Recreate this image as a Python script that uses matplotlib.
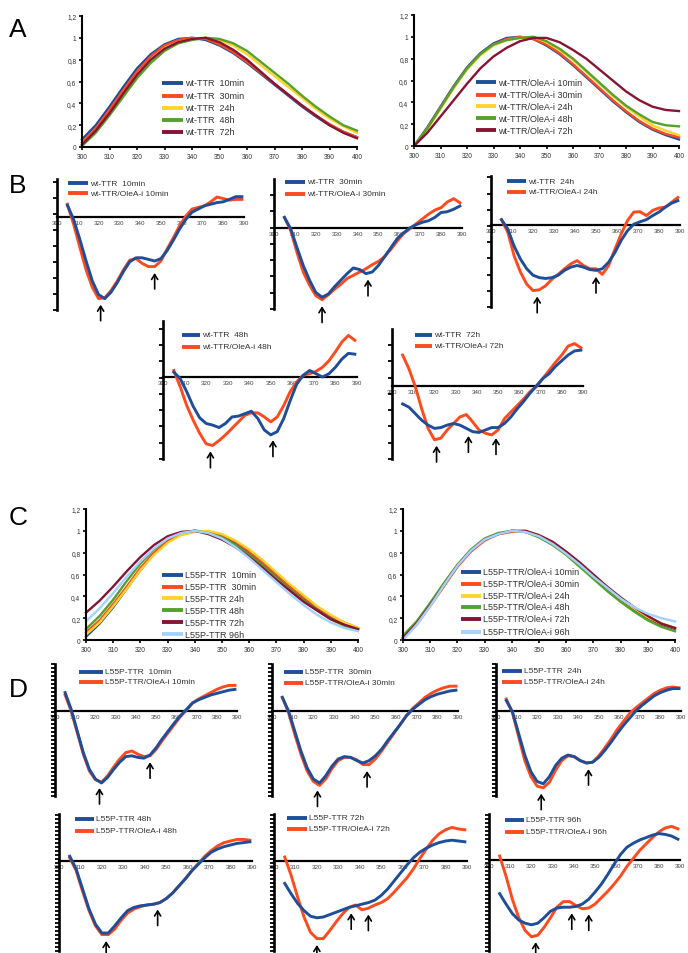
import numpy as np
import matplotlib
matplotlib.use('Agg')
import matplotlib.pyplot as plt
from matplotlib.lines import Line2D

plt.rcParams['font.family'] = ['Liberation Sans', 'DejaVu Sans']

# ------------------------------------------------------------------ data
wl_abs = list(range(300, 401, 5))
abs_ticks = list(range(300, 401, 10))
cd_ticks = list(range(300, 391, 10))
y_abs_ticks = [0, 0.2, 0.4, 0.6, 0.8, 1.0, 1.2]
y_abs_labels = ['0', '0,2', '0,4', '0,6', '0,8', '1', '1,2']

# Panel A (left): wt-TTR
a_wt_labels = ['wt-TTR  10min', 'wt-TTR  30min', 'wt-TTR  24h', 'wt-TTR  48h', 'wt-TTR  72h']
a_wt_10min = [0.07, 0.20, 0.37, 0.55, 0.72, 0.85, 0.94, 0.99, 1.00, 0.98, 0.93, 0.86, 0.77, 0.67, 0.57, 0.47, 0.37, 0.28, 0.20, 0.14, 0.09]
a_wt_30min = [0.04, 0.17, 0.34, 0.52, 0.69, 0.83, 0.93, 0.98, 1.00, 0.99, 0.94, 0.87, 0.78, 0.68, 0.58, 0.48, 0.38, 0.29, 0.21, 0.14, 0.09]
a_wt_24h = [0.02, 0.14, 0.30, 0.48, 0.65, 0.79, 0.90, 0.96, 0.99, 1.00, 0.98, 0.93, 0.85, 0.75, 0.65, 0.55, 0.45, 0.35, 0.26, 0.19, 0.13]
a_wt_48h = [0.01, 0.13, 0.29, 0.46, 0.63, 0.77, 0.88, 0.95, 0.98, 1.00, 0.99, 0.95, 0.88, 0.78, 0.68, 0.58, 0.47, 0.37, 0.28, 0.20, 0.15]
a_wt_72h = [0.02, 0.15, 0.31, 0.49, 0.66, 0.80, 0.90, 0.96, 0.99, 1.00, 0.96, 0.89, 0.80, 0.69, 0.58, 0.48, 0.38, 0.29, 0.20, 0.13, 0.08]

# Panel A (right): wt-TTR/OleA-i
a_ole_labels = ['wt-TTR/OleA-i 10min', 'wt-TTR/OleA-i 30min', 'wt-TTR/OleA-i 24h', 'wt-TTR/OleA-i 48h', 'wt-TTR/OleA-i 72h']
a_ole_10min = [0.00, 0.17, 0.36, 0.55, 0.72, 0.85, 0.94, 0.99, 1.00, 0.98, 0.92, 0.84, 0.74, 0.63, 0.52, 0.41, 0.31, 0.22, 0.15, 0.10, 0.06]
a_ole_30min = [0.00, 0.16, 0.35, 0.54, 0.71, 0.84, 0.93, 0.98, 1.00, 0.98, 0.93, 0.85, 0.75, 0.64, 0.53, 0.42, 0.32, 0.23, 0.16, 0.11, 0.08]
a_ole_24h = [0.00, 0.15, 0.34, 0.53, 0.70, 0.83, 0.92, 0.97, 0.99, 1.00, 0.95, 0.88, 0.79, 0.68, 0.57, 0.46, 0.36, 0.27, 0.19, 0.14, 0.10]
a_ole_48h = [0.00, 0.16, 0.35, 0.54, 0.71, 0.84, 0.93, 0.97, 0.99, 1.00, 0.96, 0.89, 0.80, 0.69, 0.58, 0.47, 0.37, 0.29, 0.22, 0.19, 0.18]
a_ole_72h = [0.00, 0.12, 0.27, 0.42, 0.57, 0.71, 0.82, 0.90, 0.96, 0.99, 0.99, 0.95, 0.88, 0.80, 0.70, 0.60, 0.50, 0.42, 0.36, 0.33, 0.32]

# Panel C (left): L55P-TTR
c_l55_labels = ['L55P-TTR  10min', 'L55P-TTR  30min', 'L55P-TTR 24h', 'L55P-TTR 48h', 'L55P-TTR 72h', 'L55P-TTR 96h']
c_l55_10min = [0.03, 0.15, 0.30, 0.47, 0.64, 0.79, 0.90, 0.97, 1.00, 0.99, 0.95, 0.88, 0.79, 0.69, 0.58, 0.47, 0.37, 0.28, 0.20, 0.14, 0.10]
c_l55_30min = [0.07, 0.18, 0.33, 0.49, 0.66, 0.80, 0.91, 0.97, 1.00, 0.99, 0.96, 0.90, 0.81, 0.71, 0.60, 0.49, 0.39, 0.30, 0.22, 0.16, 0.11]
c_l55_24h = [0.05, 0.16, 0.31, 0.47, 0.64, 0.78, 0.89, 0.96, 0.99, 1.00, 0.97, 0.91, 0.83, 0.73, 0.62, 0.51, 0.41, 0.31, 0.23, 0.16, 0.11]
c_l55_48h = [0.10, 0.22, 0.37, 0.54, 0.70, 0.83, 0.93, 0.98, 1.00, 0.98, 0.94, 0.87, 0.78, 0.68, 0.57, 0.46, 0.36, 0.27, 0.19, 0.13, 0.09]
c_l55_72h = [0.25, 0.36, 0.49, 0.63, 0.76, 0.87, 0.95, 0.99, 1.00, 0.97, 0.92, 0.85, 0.76, 0.66, 0.55, 0.45, 0.35, 0.27, 0.19, 0.14, 0.10]
c_l55_96h = [0.17, 0.29, 0.43, 0.58, 0.72, 0.84, 0.93, 0.98, 1.00, 0.98, 0.93, 0.85, 0.75, 0.64, 0.53, 0.42, 0.32, 0.23, 0.16, 0.11, 0.08]

# Panel C (right): L55P-TTR/OleA-i
c_ole_labels = ['L55P-TTR/OleA-i 10min', 'L55P-TTR/OleA-i 30min', 'L55P-TTR/OleA-i 24h',
                'L55P-TTR/OleA-i 48h', 'L55P-TTR/OleA-i 72h', 'L55P-TTR/OleA-i 96h']
c_ole_10min = [0.02, 0.15, 0.32, 0.50, 0.68, 0.82, 0.92, 0.97, 1.00, 0.99, 0.95, 0.88, 0.79, 0.69, 0.58, 0.47, 0.37, 0.28, 0.20, 0.14, 0.10]
c_ole_30min = [0.01, 0.14, 0.31, 0.49, 0.67, 0.81, 0.91, 0.97, 0.99, 1.00, 0.96, 0.89, 0.80, 0.70, 0.59, 0.48, 0.38, 0.29, 0.21, 0.15, 0.11]
c_ole_24h = [0.02, 0.15, 0.32, 0.50, 0.68, 0.82, 0.92, 0.97, 1.00, 0.99, 0.96, 0.89, 0.80, 0.70, 0.59, 0.48, 0.38, 0.29, 0.21, 0.15, 0.11]
c_ole_48h = [0.04, 0.17, 0.34, 0.52, 0.69, 0.83, 0.93, 0.98, 1.00, 0.99, 0.94, 0.87, 0.78, 0.67, 0.56, 0.45, 0.35, 0.26, 0.18, 0.12, 0.08]
c_ole_72h = [0.02, 0.15, 0.32, 0.50, 0.68, 0.82, 0.92, 0.97, 1.00, 1.00, 0.96, 0.90, 0.81, 0.71, 0.60, 0.49, 0.39, 0.30, 0.22, 0.15, 0.11]
c_ole_96h = [0.00, 0.14, 0.31, 0.50, 0.68, 0.82, 0.92, 0.97, 1.00, 0.99, 0.95, 0.88, 0.79, 0.69, 0.58, 0.48, 0.38, 0.30, 0.24, 0.20, 0.17]

# CD spectra (panels B and D), arbitrary units, zero = baseline
wl_cd = list(range(305, 390, 3))

b_labels = [('wt-TTR  10min', 'wt-TTR/OleA-i 10min'), ('wt-TTR  30min', 'wt-TTR/OleA-i 30min'),
            ('wt-TTR  24h', 'wt-TTR/OleA-i 24h'), ('wt-TTR  48h', 'wt-TTR/OleA-i 48h'),
            ('wt-TTR  72h', 'wt-TTR/OleA-i 72h')]
b_wt_10min = [0.73, -0.15, -1.4, -2.75, -4.0, -4.85, -5.1, -4.7, -4.1, -3.4, -2.8, -2.55, -2.55, -2.65, -2.75, -2.6, -2.1, -1.45, -0.75, -0.15, 0.3, 0.5, 0.7, 0.8, 0.9, 0.95, 1.1, 1.27, 1.27]
b_ole_10min = [0.8, -0.45, -1.9, -3.3, -4.4, -5.1, -5.05, -4.6, -4.0, -3.3, -2.7, -2.6, -2.9, -3.1, -3.1, -2.75, -2.0, -1.3, -0.55, 0.06, 0.5, 0.6, 0.7, 0.95, 1.25, 1.15, 1.05, 1.1, 1.1]
b_wt_30min = [0.65, -0.05, -1.2, -2.3, -3.2, -3.95, -4.25, -4.05, -3.6, -3.2, -2.8, -2.45, -2.55, -2.8, -2.7, -2.3, -1.75, -1.2, -0.65, -0.3, 0.0, 0.2, 0.35, 0.45, 0.65, 0.95, 1.0, 1.15, 1.35]
b_ole_30min = [0.65, -0.15, -1.5, -2.7, -3.5, -4.15, -4.4, -4.1, -3.75, -3.45, -3.1, -2.9, -2.7, -2.5, -2.25, -2.05, -1.75, -1.3, -0.8, -0.35, -0.05, 0.25, 0.55, 0.85, 1.1, 1.25, 1.6, 1.8, 1.55]
b_wt_24h = [0.33, -0.25, -1.3, -2.1, -2.7, -3.1, -3.25, -3.3, -3.25, -3.1, -2.8, -2.6, -2.5, -2.6, -2.75, -2.8, -2.7, -2.3, -1.7, -0.95, -0.35, 0.05, 0.2, 0.33, 0.58, 0.8, 1.1, 1.35, 1.5]
b_ole_24h = [0.33, -0.45, -1.9, -2.9, -3.65, -4.05, -4.0, -3.75, -3.35, -3.05, -2.7, -2.4, -2.2, -2.5, -2.7, -2.7, -3.05, -2.5, -1.5, -0.55, 0.27, 0.8, 0.82, 0.58, 0.9, 1.05, 1.1, 1.4, 1.7]
b_wt_48h = [0.3, -0.1, -0.9, -1.8, -2.5, -2.85, -2.95, -3.1, -2.85, -2.45, -2.4, -2.25, -2.1, -2.55, -3.25, -3.55, -3.35, -2.55, -1.45, -0.45, 0.1, 0.4, 0.2, 0.0, 0.2, 0.6, 1.1, 1.45, 1.4]
b_ole_48h = [0.4, -0.6, -1.75, -2.65, -3.45, -4.1, -4.2, -3.9, -3.55, -3.15, -2.75, -2.35, -2.2, -2.2, -2.45, -2.75, -2.45, -1.75, -0.9, -0.3, 0.1, 0.2, 0.35, 0.6, 1.0, 1.55, 2.15, 2.55, 2.25]
b_wt_72h = [-1.1, -1.3, -1.7, -2.1, -2.4, -2.6, -2.55, -2.4, -2.3, -2.4, -2.6, -2.8, -2.85, -2.7, -2.55, -2.55, -2.3, -1.9, -1.4, -0.95, -0.45, 0.0, 0.45, 0.75, 1.2, 1.55, 1.9, 2.15, 2.2]
b_ole_72h = [1.9, 1.05, -0.05, -1.4, -2.6, -3.3, -3.2, -2.7, -2.3, -1.9, -1.75, -2.2, -2.7, -2.9, -3.0, -2.7, -2.0, -1.6, -1.2, -0.8, -0.35, -0.05, 0.45, 0.95, 1.45, 1.9, 2.45, 2.6, 2.35]
b_arrows = [[321, 347], [323, 345], [322, 350], [322, 351], [321, 336, 349]]

d_labels = [('L55P-TTR  10min', 'L55P-TTR/OleA-i 10min'), ('L55P-TTR  30min', 'L55P-TTR/OleA-i 30min'),
            ('L55P-TTR  24h', 'L55P-TTR/OleA-i 24h'), ('L55P-TTR 48h', 'L55P-TTR/OleA-i 48h'),
            ('L55P-TTR 72h', 'L55P-TTR/OleA-i 72h'), ('L55P-TTR 96h', 'L55P-TTR/OleA-i 96h')]
d_l55_10min = [1.15, 0.1, -1.25, -2.6, -3.65, -4.25, -4.5, -4.15, -3.65, -3.2, -2.85, -2.8, -2.9, -2.95, -2.75, -2.3, -1.75, -1.25, -0.75, -0.3, 0.1, 0.5, 0.7, 0.85, 1.0, 1.1, 1.2, 1.3, 1.35]
d_ole_10min = [1.0, 0.0, -1.35, -2.7, -3.75, -4.3, -4.45, -4.05, -3.5, -3.0, -2.6, -2.5, -2.7, -2.85, -2.8, -2.4, -1.85, -1.35, -0.85, -0.35, 0.05, 0.5, 0.75, 0.95, 1.15, 1.35, 1.5, 1.6, 1.6]
d_l55_30min = [0.85, 0.0, -1.25, -2.5, -3.55, -4.25, -4.5, -4.05, -3.45, -3.0, -2.85, -2.9, -3.1, -3.25, -3.1, -2.8, -2.4, -1.85, -1.35, -0.85, -0.3, 0.1, 0.4, 0.7, 0.9, 1.05, 1.15, 1.25, 1.3]
d_ole_30min = [0.85, -0.1, -1.45, -2.7, -3.75, -4.4, -4.65, -4.25, -3.6, -3.1, -2.9, -2.9, -3.05, -3.35, -3.35, -3.0, -2.5, -1.95, -1.4, -0.85, -0.3, 0.15, 0.5, 0.85, 1.1, 1.3, 1.45, 1.55, 1.55]
d_l55_24h = [0.65, -0.05, -1.4, -2.75, -3.8, -4.4, -4.55, -4.1, -3.4, -2.95, -2.75, -2.85, -3.1, -3.25, -3.2, -2.9, -2.45, -1.95, -1.4, -0.9, -0.45, 0.0, 0.35, 0.65, 0.95, 1.15, 1.3, 1.4, 1.4]
d_ole_24h = [0.75, -0.1, -1.6, -3.1, -4.1, -4.7, -4.8, -4.45, -3.7, -3.1, -2.8, -2.85, -3.1, -3.25, -3.2, -2.8, -2.3, -1.75, -1.15, -0.65, -0.15, 0.2, 0.5, 0.8, 1.1, 1.3, 1.45, 1.5, 1.45]
d_l55_48h = [0.3, -0.5, -1.75, -3.0, -3.95, -4.5, -4.5, -4.05, -3.55, -3.1, -2.9, -2.8, -2.75, -2.7, -2.6, -2.35, -2.0, -1.55, -1.1, -0.6, -0.2, 0.2, 0.55, 0.75, 0.9, 1.0, 1.1, 1.15, 1.2]
d_ole_48h = [0.2, -0.6, -1.9, -3.1, -4.05, -4.6, -4.6, -4.25, -3.7, -3.25, -3.0, -2.85, -2.75, -2.7, -2.6, -2.35, -2.0, -1.55, -1.1, -0.6, -0.15, 0.3, 0.65, 0.95, 1.15, 1.25, 1.35, 1.35, 1.3]
d_l55_72h = [-1.4, -2.05, -2.65, -3.1, -3.45, -3.55, -3.5, -3.35, -3.2, -3.05, -2.9, -2.8, -2.7, -2.6, -2.45, -2.15, -1.75, -1.25, -0.75, -0.25, 0.2, 0.55, 0.8, 1.0, 1.15, 1.25, 1.3, 1.25, 1.2]
d_ole_72h = [0.25, -0.9, -2.25, -3.5, -4.45, -4.85, -4.85, -4.35, -3.8, -3.3, -2.9, -2.75, -3.05, -2.95, -2.75, -2.6, -2.35, -1.95, -1.5, -1.05, -0.5, 0.15, 0.75, 1.3, 1.7, 1.95, 2.1, 2.0, 1.95]
d_l55_96h = [-2.1, -2.75, -3.35, -3.75, -3.95, -4.05, -3.95, -3.6, -3.2, -3.0, -2.95, -2.95, -2.9, -2.75, -2.45, -2.0, -1.5, -0.9, -0.25, 0.35, 0.8, 1.05, 1.25, 1.4, 1.55, 1.65, 1.6, 1.5, 1.3]
d_ole_96h = [0.25, -1.0, -2.45, -3.6, -4.4, -4.8, -4.7, -4.2, -3.6, -2.95, -2.6, -2.6, -2.85, -3.05, -3.0, -2.75, -2.35, -1.95, -1.5, -1.0, -0.4, 0.1, 0.6, 1.0, 1.4, 1.75, 2.0, 2.1, 1.95]
d_arrows = [[322, 347], [322, 346], [322, 345], [322, 346], [320, 336, 344], [322, 339, 347]]

# ------------------------------------------------------------------ styling
W, H = 688, 954
BLUE = '#1f4e99'
RED = '#ff4a1e'
YELLOW = '#ffd42a'
GREEN = '#55a12b'
MAROON = '#861432'
LBLUE = '#a3d2ff'
TXT = '#333333'

fig = plt.figure(figsize=(W / 100, H / 100), dpi=100)


def fx(px):
    return px / W


def fy(py):
    return 1 - py / H


def legend(x0, x1, ys, labels, colors, fs=6.3, lw=2.8):
    for y, lab, c in zip(ys, labels, colors):
        fig.add_artist(Line2D([fx(x0), fx(x1)], [fy(y), fy(y)], color=c, lw=lw,
                              transform=fig.transFigure, solid_capstyle='butt'))
        fig.text(fx(x1 + 2), fy(y), lab, fontsize=fs, va='center', ha='left', color=TXT)


def abs_panel(box, series, colors):
    left, right, top, bottom = box
    ax = fig.add_axes([fx(left), fy(bottom), fx(right - left), (bottom - top) / H])
    for s, c in zip(series, colors):
        ax.plot(wl_abs, s, color=c, lw=1.7, clip_on=False)
    ax.set_xlim(300, 400)
    ax.set_ylim(0, 1.2)
    ax.set_xticks(abs_ticks)
    ax.set_yticks(y_abs_ticks)
    ax.set_yticklabels(y_abs_labels)
    for sp in ('top', 'right'):
        ax.spines[sp].set_visible(False)
    for sp in ('left', 'bottom'):
        ax.spines[sp].set_linewidth(1.5)
    ax.tick_params(direction='out', length=2.5, width=1.2, labelsize=4.8,
                   labelcolor=TXT, pad=1.5)
    ax.patch.set_alpha(0)
    return ax


def cd_panel(box, blue, red, labels, arrows, tick_step, leg):
    x300, x390, top, zero, bottom, ppu = box
    ax = fig.add_axes([fx(x300), fy(bottom), fx(x390 - x300), (bottom - top) / H])
    ylo, yhi = -(bottom - zero) / ppu, (zero - top) / ppu
    ax.plot(wl_cd, red, color=RED, lw=2.1, solid_joinstyle='round')
    ax.plot(wl_cd, blue, color=BLUE, lw=2.1, solid_joinstyle='round')
    ax.set_xlim(300, 390)
    ax.set_ylim(ylo, yhi)
    ax.spines['top'].set_visible(False)
    ax.spines['right'].set_visible(False)
    ax.spines['left'].set_linewidth(1.9)
    ax.spines['bottom'].set_position(('data', 0))
    ax.spines['bottom'].set_linewidth(1.6)
    ax.spines['bottom'].set_zorder(1)
    ax.set_xticks(cd_ticks)
    ax.tick_params(axis='x', length=0, labelsize=4.5, labelcolor='#444444', pad=2)
    ax.set_yticks(np.arange(ylo, yhi + 1e-6, tick_step))
    ax.set_yticklabels([])
    ax.tick_params(axis='y', direction='out', length=3, width=1.3)
    ax.patch.set_alpha(0)
    for xa in arrows:
        tip = min(np.interp(xa, wl_cd, blue), np.interp(xa, wl_cd, red)) - 0.4
        ax.annotate('', xy=(xa, tip), xytext=(xa, tip - 1.0),
                    arrowprops=dict(arrowstyle='->,head_length=0.35,head_width=0.22',
                                    lw=1.2, color='black', shrinkA=0, shrinkB=0),
                    annotation_clip=False)
    lx0, lx1, ly0, ly1 = leg
    legend(lx0, lx1, [ly0, ly1], labels, [BLUE, RED], fs=6.0, lw=2.8)
    return ax


# ------------------------------------------------------------------ panel A
cols5 = [BLUE, RED, YELLOW, GREEN, MAROON]
abs_panel((82, 357, 17, 148), [a_wt_10min, a_wt_30min, a_wt_24h, a_wt_48h, a_wt_72h], cols5)
legend(162, 183, [84, 97, 109, 121, 133], a_wt_labels, cols5, fs=6.5)
abs_panel((414, 679, 16, 147), [a_ole_10min, a_ole_30min, a_ole_24h, a_ole_48h, a_ole_72h], cols5)
legend(476, 496, [83, 96, 107, 119, 131], a_ole_labels, cols5, fs=6.5)

# ------------------------------------------------------------------ panel B
b_boxes = [(57, 244, 180, 218, 311, 16.0), (274, 462, 180, 229, 310, 16.3),
           (491, 680, 177, 226, 308, 16.2), (163, 357, 322, 378, 460, 16.3),
           (392, 583, 330, 387, 460, 16.3)]
b_legs = [(68, 88, 184, 194), (285, 305, 183, 195), (507, 526, 182, 193),
          (182, 200, 336, 348), (415, 432, 336, 347)]
b_blue = [b_wt_10min, b_wt_30min, b_wt_24h, b_wt_48h, b_wt_72h]
b_red = [b_ole_10min, b_ole_30min, b_ole_24h, b_ole_48h, b_ole_72h]
for i in range(5):
    cd_panel(b_boxes[i], b_blue[i], b_red[i], b_labels[i], b_arrows[i], 1.0, b_legs[i])

# ------------------------------------------------------------------ panel C
cols6 = [BLUE, RED, YELLOW, GREEN, MAROON, LBLUE]
abs_panel((86, 358, 510, 641), [c_l55_10min, c_l55_30min, c_l55_24h, c_l55_48h, c_l55_72h, c_l55_96h], cols6)
legend(162, 183, [576, 588, 599, 611, 623, 635], c_l55_labels, cols6, fs=6.5)
abs_panel((403, 675, 510, 641), [c_ole_10min, c_ole_30min, c_ole_24h, c_ole_48h, c_ole_72h, c_ole_96h], cols6)
legend(461, 481, [573, 585, 597, 608, 620, 633], c_ole_labels, cols6, fs=6.5)

# ------------------------------------------------------------------ panel D
d_boxes = [(55, 237, 665, 712, 797, 16.0), (272, 458, 665, 712, 797, 16.0),
           (496, 681, 665, 712, 797, 16.0), (59, 252, 815, 862, 952, 16.0),
           (274, 467, 815, 862, 952, 16.0), (489, 680, 815, 861, 952, 16.0)]
d_legs = [(79, 103, 673, 683), (284, 303, 673, 684), (502, 522, 672, 683),
          (75, 94, 820, 832), (287, 307, 819, 830), (505, 524, 821, 833)]
d_blue = [d_l55_10min, d_l55_30min, d_l55_24h, d_l55_48h, d_l55_72h, d_l55_96h]
d_red = [d_ole_10min, d_ole_30min, d_ole_24h, d_ole_48h, d_ole_72h, d_ole_96h]
for i in range(6):
    cd_panel(d_boxes[i], d_blue[i], d_red[i], d_labels[i], d_arrows[i], 0.25, d_legs[i])

# ------------------------------------------------------------------ panel letters
for letter, (px, py) in zip('ABCD', [(18, 30), (18, 186), (18, 518), (18, 690)]):
    fig.text(fx(px), fy(py), letter, fontsize=19, ha='center', va='center', color='black')

fig.savefig('out.png', dpi=100)
